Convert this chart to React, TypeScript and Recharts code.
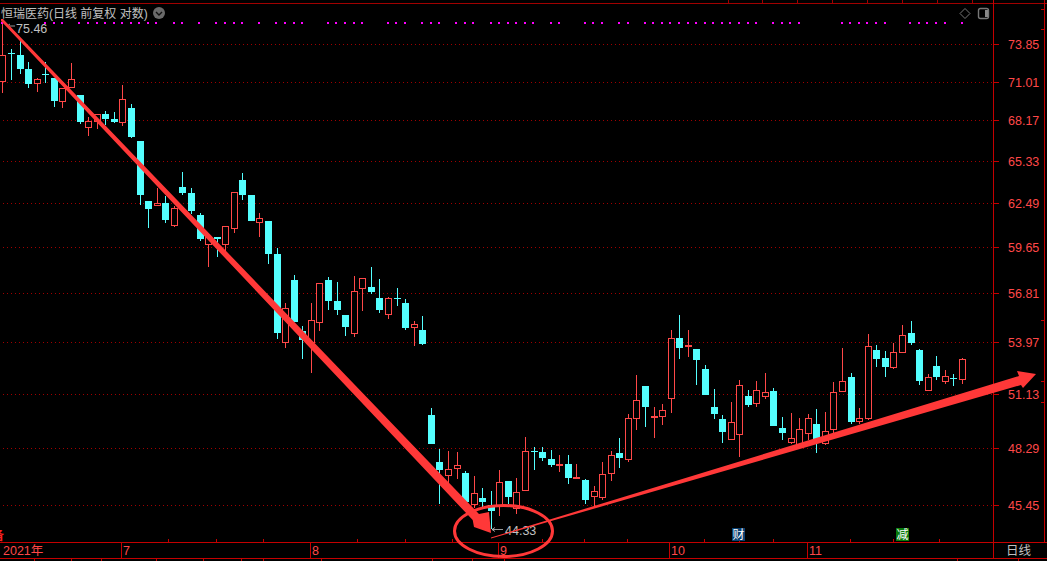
import React from 'react';
import { ComposedChart, Bar, Line, XAxis, YAxis, CartesianGrid } from 'recharts';

const opens = [71.00,73.15,73.03,71.98,70.85,71.61,71.30,69.51,70.55,70.03,67.65,68.07,68.65,68.29,68.00,69.08,66.72,62.62,62.29,62.49,61.01,63.56,63.15,61.72,59.79,60.30,59.79,60.82,64.04,63.02,61.20,61.33,59.23,53.93,57.64,54.62,53.93,55.09,57.64,56.36,55.55,54.45,57.09,57.21,56.54,55.55,56.54,56.25,54.80,54.68,50.00,47.58,46.89,47.23,47.03,45.46,45.80,45.46,45.36,46.64,45.27,46.15,48.12,48.07,47.73,47.38,47.48,46.74,46.69,45.85,45.80,46.98,48.02,47.68,49.79,51.55,49.89,49.89,50.83,54.22,53.69,53.58,52.48,50.41,49.79,48.69,48.95,51.00,50.57,50.95,51.27,49.32,48.54,48.33,49.00,49.53,48.48,49.21,51.22,52.04,49.63,49.79,53.52,53.08,52.53,53.36,54.51,53.52,51.27,52.64,51.77,51.99,51.88];
const highs = [75.46,73.49,74.12,72.51,71.30,72.51,71.30,70.55,72.43,70.03,68.43,68.65,68.86,68.79,70.78,69.36,66.72,62.62,63.49,62.95,62.29,64.58,63.49,61.85,60.30,60.30,61.01,63.22,64.51,63.02,61.85,61.33,59.60,56.25,57.94,54.91,56.25,57.46,57.82,57.52,55.55,57.88,57.76,58.43,57.70,56.60,57.15,56.48,55.20,55.49,50.36,48.22,48.12,48.07,47.13,46.89,46.29,46.15,47.18,46.64,46.79,48.85,48.33,48.33,48.17,47.92,47.92,47.48,46.74,46.39,47.58,48.12,48.80,50.05,52.15,51.55,50.41,50.57,54.68,55.55,54.68,53.58,52.70,51.38,50.00,50.68,51.88,51.33,51.82,52.26,51.44,49.89,50.10,49.84,50.05,50.31,50.15,51.77,53.64,52.26,50.36,54.45,53.81,53.47,53.93,54.97,55.20,53.58,52.20,53.19,52.42,52.20,53.08];
const lows = [70.18,71.15,71.61,70.55,70.25,70.93,69.15,69.08,70.55,67.93,67.07,67.57,67.86,68.00,67.79,66.93,62.36,60.88,62.29,61.20,60.95,63.02,61.78,60.05,58.43,59.04,59.29,60.56,62.68,61.33,60.30,58.62,54.16,53.64,55.14,53.03,52.26,54.62,55.84,55.55,54.33,54.27,55.78,56.78,55.67,55.32,56.07,54.68,53.75,53.81,48.48,45.51,46.54,46.74,45.46,45.36,45.36,44.33,44.93,45.51,45.03,46.15,47.18,47.63,47.33,47.08,46.49,46.74,45.51,45.36,45.70,46.64,47.28,47.58,49.21,49.37,48.80,49.47,50.10,53.03,53.14,51.60,51.05,49.79,48.54,48.69,47.82,50.41,50.41,50.83,49.42,48.69,48.48,48.27,48.69,48.02,48.43,49.06,51.22,49.53,49.53,49.74,52.59,52.04,52.48,53.36,53.81,51.60,51.27,51.88,51.66,51.55,51.66];
const closes = [73.03,73.07,71.98,70.85,71.23,71.53,69.58,70.55,71.23,68.07,68.15,68.65,68.29,68.07,69.73,67.00,63.02,62.10,62.49,61.40,62.17,63.15,61.97,60.18,60.30,60.18,61.01,63.22,63.02,61.33,61.52,59.23,54.51,55.96,55.14,54.10,55.26,57.46,56.36,55.84,54.85,56.96,57.76,56.90,55.84,56.54,56.48,54.80,55.03,53.87,48.48,47.18,47.23,47.43,45.60,46.05,45.60,45.17,46.59,45.85,46.10,48.12,48.07,47.77,47.43,47.48,46.79,46.84,45.70,46.15,46.98,47.92,47.77,49.84,50.78,50.41,49.94,50.26,54.22,53.64,53.81,52.97,51.05,50.05,49.11,49.63,51.60,50.52,51.33,51.22,49.42,49.06,48.80,49.27,49.84,48.54,49.16,51.22,51.82,49.63,49.84,53.75,53.03,52.59,53.41,54.39,53.93,51.82,52.04,52.04,52.09,51.93,53.03];

const priceTicks = [73.85, 71.01, 68.17, 65.33, 62.49, 59.65, 56.81, 53.97, 51.13, 48.29, 45.45];
const monthStarts = [0, 14, 36, 58, 78, 94];
const monthLabels = ['2021年', '7', '8', '9', '10', '11'];
const signalDays = [0,5,6,7,9,10,11,12,13,14,15,16,17,18,20,21,23,25,26,27,28,30,32,33,34,35,38,39,40,41,42,45,46,47,49,50,51,53,54,55,57,58,59,60,61,62,64,65,68,69,70,72,73,75,76,77,78,79,80,81,82,83,84,85,86,87,88,90,91,92,93,98,99,100,101,102,103,106,107,108,109,110,112];
const signalLevel = 75.55;

const rows = opens.map((open, i) => ({
  day: i,
  wick: [lows[i], highs[i]],
  body: [Math.min(open, closes[i]), Math.max(open, closes[i])],
  rising: closes[i] >= open,
  signal: signalDays.includes(i) ? signalLevel : null,
}));

const RED = '#ff4848';
const CYAN = '#54ffff';
const AXIS = '#c40000';
const GREY = '#c0c0c0';
const ARROW = '#ff3838';
const FONT = '"Liberation Sans", "Noto Sans CJK SC", sans-serif';

const upperTicks = [168, 216, 263, 357, 405, 452, 542, 584, 627, 704, 739, 773, 850, 893, 939];
const lowerTicks = [34, 71, 101, 156, 203, 241, 263, 321, 432, 472, 504, 957, 1018];
const topTicks = [728, 762, 797, 832, 867, 902, 937, 972];

const WickShape = (props: any) => {
  const { x, width, y, height, payload } = props;
  const cx = Math.round(x + width / 2);
  return <rect x={cx} y={Math.round(y)} width={1} height={Math.max(1, Math.round(height))} fill={payload.rising ? RED : CYAN} />;
};

const BodyShape = (props: any) => {
  const { x, width, y, height, payload } = props;
  const cx = Math.round(x + width / 2);
  const top = Math.round(y);
  const h = Math.max(1, Math.round(y + height) - top);
  if (payload.rising) {
    if (h < 3) return <rect x={cx - 3} y={top} width={7} height={2} fill={RED} />;
    return <rect x={cx - 2.5} y={top + 0.5} width={6} height={h - 1} fill="#000" stroke={RED} strokeWidth={1} />;
  }
  return <rect x={cx - 3} y={top} width={7} height={h} fill={CYAN} />;
};

const SignalDot = (props: any) => {
  const { cx, cy, payload } = props;
  if (payload.signal == null || cx == null) return <g />;
  return <rect x={Math.round(cx) - 1} y={Math.round(cy) - 1} width={2} height={2} fill="#ff00ff" />;
};

const PriceTick = ({ y, payload }: any) => {
  const py = Math.round(y);
  return (
    <g>
      <rect x={993} y={py} width={6} height={1} fill={AXIS} />
      <text x={1008} y={py + 5} fill={RED} fontSize={12.5} fontFamily={FONT}>{payload.value.toFixed(2)}</text>
    </g>
  );
};

const MonthTick = ({ x, payload }: any) => {
  const i = monthStarts.indexOf(payload.value);
  const lx = Math.round(x) - 1;
  return (
    <g>
      {i > 0 && <rect x={lx} y={542} width={1} height={16} fill={AXIS} />}
      <text x={i > 0 ? lx + 2 : 3} y={555} fill={RED} fontSize={12.5} fontFamily={FONT}>{monthLabels[i]}</text>
    </g>
  );
};

const DottedRow = (props: any) => {
  const y = Math.round(props.y1);
  return <line x1={3} x2={993} y1={y + 0.5} y2={y + 0.5} stroke="#a00000" strokeWidth={1} strokeDasharray="1 3" />;
};

const Overlay = () => (
  <svg width={1047} height={561} style={{ position: 'absolute', left: 0, top: 0, pointerEvents: 'none' }}>
    <rect x={0} y={3} width={1047} height={1} fill="#a00000" />
    {topTicks.map((x) => <rect key={x} x={x} y={0} width={1} height={3} fill="#a00000" />)}
    <rect x={993} y={0} width={1} height={542} fill={AXIS} />
    <rect x={1044} y={0} width={1} height={542} fill={AXIS} />
    {[9, 29, 320, 381, 402].map((y) => <rect key={y} x={1041} y={y} width={3} height={1} fill={AXIS} />)}
    <rect x={0} y={542} width={1047} height={1} fill={AXIS} />
    <rect x={0} y={558} width={1047} height={1} fill={AXIS} />
    <rect x={993} y={542} width={1} height={16} fill={AXIS} />
    {upperTicks.map((x) => <rect key={x} x={x} y={539} width={1} height={3} fill={AXIS} />)}
    {lowerTicks.map((x) => <rect key={x} x={x} y={559} width={1} height={2} fill={AXIS} />)}

    <text x={1} y={18} fill={GREY} fontSize={12} fontFamily={FONT}>恒瑞医药(日线 前复权 对数)</text>
    <circle cx={159} cy={13} r={6} fill="#6a6a6a" />
    <path d="M156 12 L159 15 L162 12" fill="none" stroke="#111" strokeWidth={1.4} />
    <path d="M965 8.5 L970 13.5 L965 18.5 L960 13.5 Z" fill="none" stroke="#777" />
    <rect x={978.5} y={8.5} width={10} height={10} rx={2} fill="none" stroke="#777" strokeWidth={1.4} />
    <rect x={985} y={10} width={3} height={7} fill="#888" />

    <path d="M15 26 H7 M10 24 L7 26 L10 28" fill="none" stroke={GREY} strokeWidth={0.8} />
    <text x={16} y={33} fill={GREY} fontSize={12.5} fontFamily={FONT}>75.46</text>
    <path d="M503 529.5 H492 M495 527.5 L492 529.5 L495 531.5" fill="none" stroke={GREY} strokeWidth={0.8} />
    <text x={505} y={535} fill={GREY} fontSize={12.5} fontFamily={FONT}>44.33</text>

    <text x={-8} y={540} fill="#ff2020" fontSize={12} fontWeight="bold" fontFamily={FONT}>备</text>
    <text x={1006} y={555} fill={GREY} fontSize={12.5} fontFamily={FONT}>日线</text>
    <rect x={732} y={528} width={13} height={13} fill="#0a4070" />
    <text x={732.5} y={539} fill="#fff" fontSize={12} fontFamily={FONT}>财</text>
    <rect x={896} y={528} width={13} height={13} fill="#0a7a0a" />
    <text x={896.5} y={539} fill="#fff" fontSize={12} fontFamily={FONT}>减</text>

    <polygon points="1,19 3,19 479,514 489,512 491,533 474,527 472.7,520 1,21" fill={ARROW} />
    <polygon points="491,537.5 1019,376 1017,371 1036,374 1023,388 1021,385 491,538.5" fill={ARROW} />
    <ellipse cx={503.5} cy={531} rx={49} ry={25.5} fill="none" stroke={ARROW} strokeWidth={3} />
  </svg>
);

const App: React.FC = () => {
  return (
    <div style={{ position: 'relative', width: 1047, height: 561, overflow: 'hidden', background: '#000' }}>
      <style>{'body{margin:0;background:#000}'}</style>
      <ComposedChart width={1047} height={561} data={rows} margin={{ top: 3, right: 0, bottom: 0, left: -2 }} barCategoryGap={0}>
        <CartesianGrid yAxisId="price" xAxisId="date" vertical={false} horizontal={DottedRow} syncWithTicks />
        <XAxis xAxisId="date" dataKey="day" height={19} padding={{ left: 0, right: 27 }} ticks={monthStarts} interval={0} axisLine={false} tickLine={false} tick={MonthTick} />
        <XAxis xAxisId="wicks" dataKey="day" hide padding={{ left: 0, right: 27 }} />
        <YAxis yAxisId="price" orientation="right" width={54} type="number" scale="log" domain={[43.73, 77.13]} allowDataOverflow ticks={priceTicks} interval={0} axisLine={false} tickLine={false} tick={PriceTick} />
        <Bar xAxisId="wicks" yAxisId="price" dataKey="wick" shape={WickShape} isAnimationActive={false} />
        <Bar xAxisId="date" yAxisId="price" dataKey="body" shape={BodyShape} isAnimationActive={false} />
        <Line xAxisId="date" yAxisId="price" dataKey="signal" stroke="none" dot={SignalDot} activeDot={false} connectNulls={false} isAnimationActive={false} />
      </ComposedChart>
      <Overlay />
    </div>
  );
};

export default App;
